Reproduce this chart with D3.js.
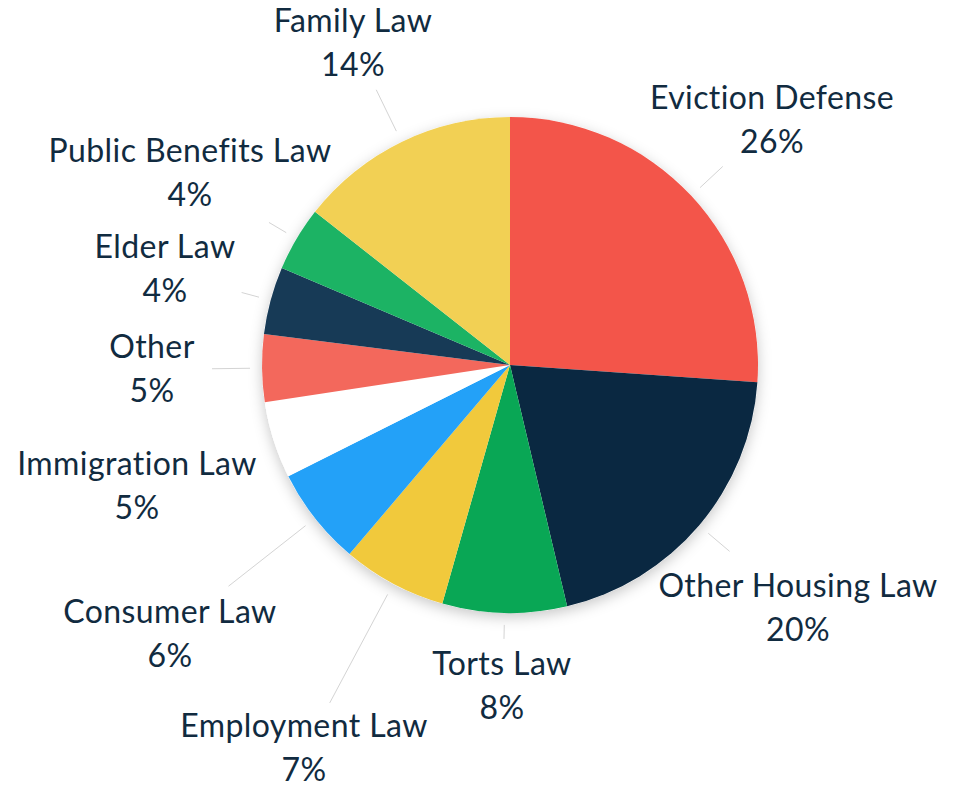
<!DOCTYPE html>
<html>
<head>
<meta charset="utf-8">
<script src="https://cdn.jsdelivr.net/npm/d3@7"></script>
<style>
  body { margin: 0; background: #fff; }
  text { font-family: Lato, "Open Sans", sans-serif; fill: #112b40; letter-spacing: 0.4px; }
</style>
</head>
<body>
<script>
// slice data, clockwise from 12 o'clock
var categories = ["Eviction Defense", "Other Housing Law", "Torts Law", "Employment Law", "Consumer Law",
                  "Immigration Law", "Other", "Elder Law", "Public Benefits Law", "Family Law"];
var shares = [26.1, 20.2, 8.1, 6.8, 6.4, 5.0, 4.4, 4.4, 4.2, 14.4];
var pctLabels = ["26%", "20%", "8%", "7%", "6%", "5%", "5%", "4%", "4%", "14%"];
var colors = ["#f3554a", "#0a2841", "#09a755", "#f1c93c", "#23a1f8",
              "#ffffff", "#f3685c", "#173a56", "#1cb364", "#f2d054"];

// label layout (centre x, first baseline y) and leader length beyond the rim
var labelAt = [[772, 109], [798, 597], [502, 675], [304, 737], [170, 623],
               [137, 475], [152, 358], [165, 258], [190, 162], [353, 32]];
var leaderOut = [43, 40, 26, 135, 110, 0, 50, 30, 32, 58];

var width = 961, height = 788;
var cx = 510, cy = 365, r = 248;

var svg = d3.select("body").append("svg")
    .attr("width", width)
    .attr("height", height);

var defs = svg.append("defs");
var shadow = defs.append("filter")
    .attr("id", "shadow")
    .attr("x", "-20%").attr("y", "-20%")
    .attr("width", "140%").attr("height", "140%");
shadow.append("feDropShadow")
    .attr("dx", 0).attr("dy", 4)
    .attr("stdDeviation", 7)
    .attr("flood-color", "#000")
    .attr("flood-opacity", 0.22);

var pie = d3.pie().sort(null).value(function(d) { return d; });
var arcs = pie(shares);
var arc = d3.arc().innerRadius(0).outerRadius(r);

var g = svg.append("g").attr("transform", "translate(" + cx + "," + cy + ")");

// shadow disc under slices
g.append("circle").attr("r", r).attr("fill", "#fff").attr("filter", "url(#shadow)");

g.selectAll("path.slice")
    .data(arcs)
    .enter().append("path")
    .attr("class", "slice")
    .attr("d", arc)
    .attr("fill", function(d, i) { return colors[i]; });

//leader lines
g.selectAll("line.leader")
    .data(arcs.filter(function(d, i) { return leaderOut[i] > 0; }))
    .enter().append("line")
    .attr("class", "leader")
    .each(function(d) {
      var i = d.index;
      var a = (d.startAngle + d.endAngle) / 2;
      var r0 = r + 12, r1 = r + leaderOut[i];
      d3.select(this)
        .attr("x1", Math.sin(a) * r0).attr("y1", -Math.cos(a) * r0)
        .attr("x2", Math.sin(a) * r1).attr("y2", -Math.cos(a) * r1);
    })
    .attr("stroke", "#d4d4d4")
    .attr("stroke-width", 1);

var labels = svg.selectAll("g.label")
    .data(categories)
    .enter().append("g")
    .attr("class", "label")
    .attr("transform", function(d, i) { return "translate(" + labelAt[i][0] + "," + labelAt[i][1] + ")"; });

labels.append("text")
    .attr("text-anchor", "middle")
    .attr("font-size", 32)
    .text(function(d) { return d; });

labels.append("text")
    .attr("text-anchor", "middle")
    .attr("font-size", 32)
    .attr("y", 44)
    .text(function(d, i) { return pctLabels[i]; });
</script>
</body>
</html>
